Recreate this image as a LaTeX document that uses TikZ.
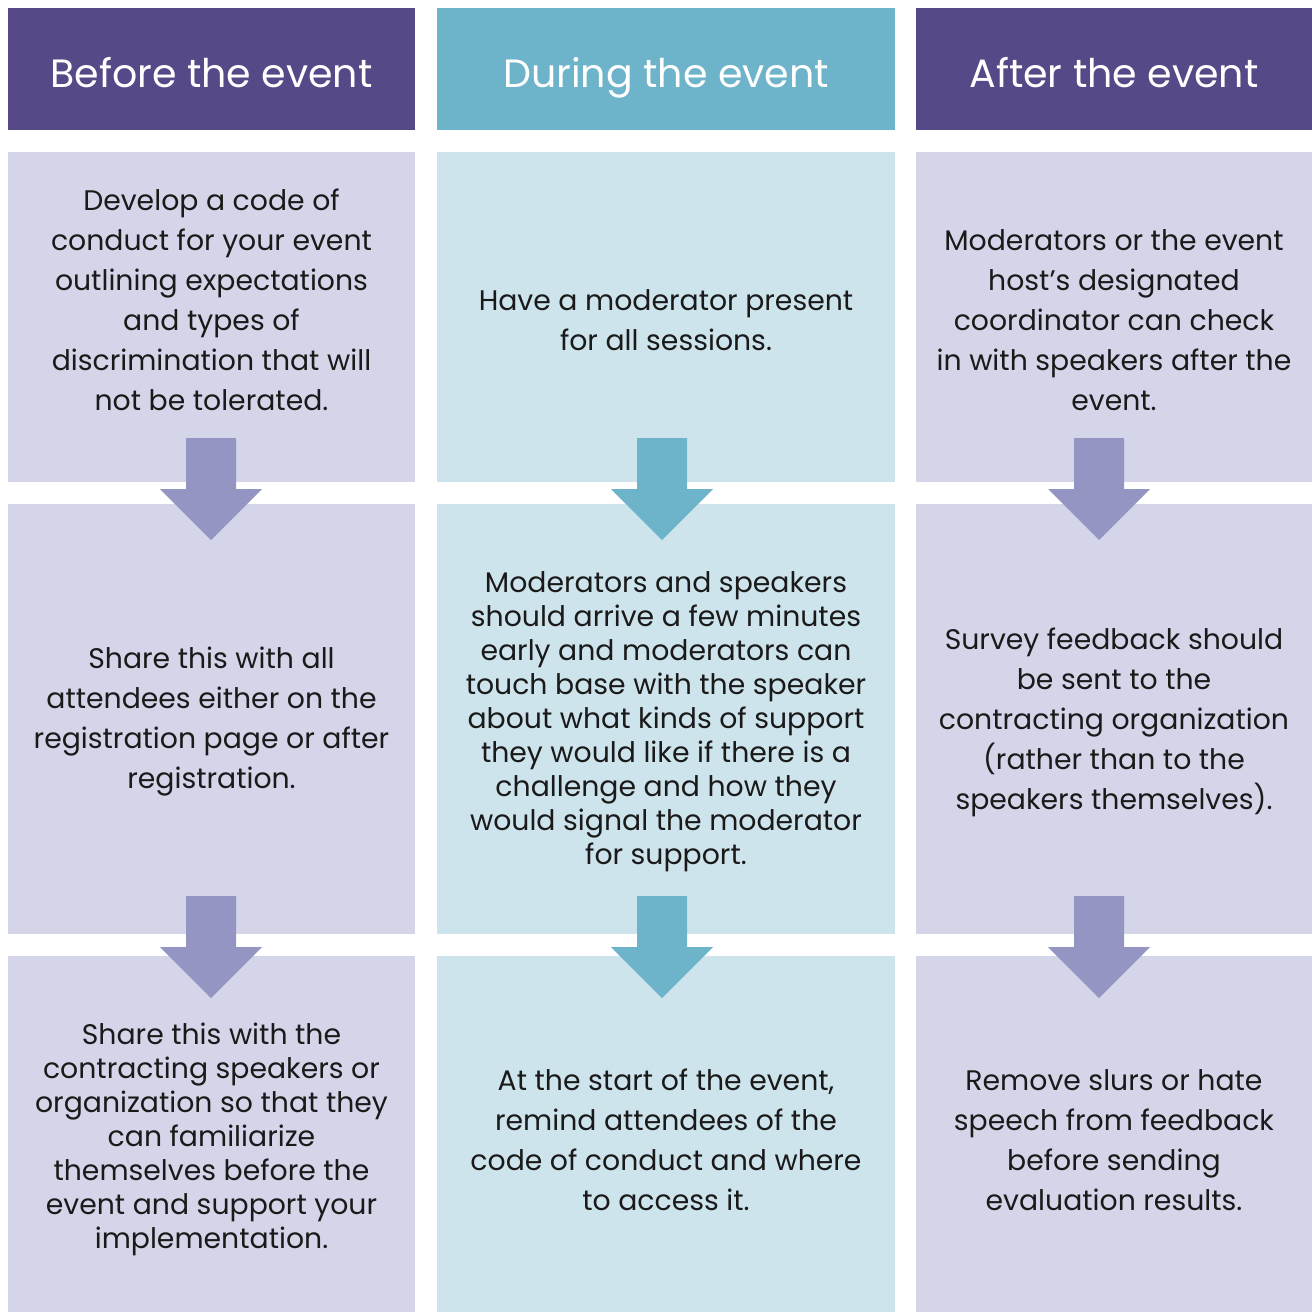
\documentclass[tikz,border=0pt]{standalone}
\usepackage{fontspec}
\setmainfont{Poppins}
\definecolor{hpurple}{HTML}{574887}
\definecolor{hteal}{HTML}{6DB3C9}
\definecolor{lpurple}{HTML}{D5D5EA}
\definecolor{lteal}{HTML}{CEE4EC}
\definecolor{apurple}{HTML}{9595C3}
\definecolor{txt}{HTML}{1A1A1A}
\tikzset{
  hdr/.style={anchor=base, inner sep=0pt, text=white, font=\fontsize{39.5}{44}\selectfont},
  body/.style={align=center, text=txt, font=\fontsize{28.3}{40}\selectfont},
  bodyt/.style={align=center, text=txt, font=\fontsize{28.3}{34}\selectfont},
}
\usetikzlibrary{calc}
\newcommand{\dnarrow}[2]{%
  \fill[#2] ($(#1)+(-25,0)$) -- ++(50,0) -- ++(0,51) -- ++(26,0) -- ($(#1)+(0,102)$) -- ($(#1)+(-51,51)$) -- ++(26,0) -- cycle;}
\begin{document}
\begin{tikzpicture}[x=1pt,y=-1pt]
\useasboundingbox (0,0) rectangle (1312,1312);
\fill[white] (0,0) rectangle (1312,1312);
% headers
\fill[hpurple] (8,8) rectangle (415,130);
\fill[hteal] (437,8) rectangle (895,130);
\fill[hpurple] (916,8) rectangle (1312,130);
\node[hdr] (h1) at (211.5,87) {Before the event};
\node[hdr] (h2) at (666,87) {During the event};
\node[hdr] (h3) at (1114,87) {After the event};
% cells
\foreach \ya/\yb in {152/482, 504/934, 956/1312} {
  \fill[lpurple] (8,\ya) rectangle (415,\yb);
  \fill[lteal] (437,\ya) rectangle (895,\yb);
  \fill[lpurple] (916,\ya) rectangle (1312,\yb);
}
% arrows
\coordinate (a11) at (211,438);
\coordinate (a21) at (662,438);
\coordinate (a31) at (1099,438);
\coordinate (a12) at (211,896);
\coordinate (a22) at (662,896);
\coordinate (a32) at (1099,896);
\dnarrow{a11}{apurple}
\dnarrow{a21}{hteal}
\dnarrow{a31}{apurple}
\dnarrow{a12}{apurple}
\dnarrow{a22}{hteal}
\dnarrow{a32}{apurple}
% texts
\node[body] (t11) at (211.5,300) {Develop a code of\\conduct for your event\\outlining expectations\\and types of\\discrimination that will\\not be tolerated.};
\node[body] (t21) at (666,320) {Have a moderator present\\for all sessions.};
\node[body] (t31) at (1114,320) {Moderators or the event\\host’s designated\\coordinator can check\\in with speakers after the\\event.};
\node[body] (t12) at (211.5,722) {Share this with all\\attendees either on the\\registration page or after\\registration.};
\node[bodyt] (t22) at (666,722) {Moderators and speakers\\should arrive a few minutes\\early and moderators can\\touch base with the speaker\\about what kinds of support\\they would like if there is a\\challenge and how they\\would signal the moderator\\for support.};
\node[body] (t32) at (1114,722) {Survey feedback should\\be sent to the\\contracting organization\\(rather than to the\\speakers themselves).};
\node[bodyt] (t13) at (211.5,1139) {Share this with the\\contracting speakers or\\organization so that they\\can familiarize\\themselves before the\\event and support your\\implementation.};
\node[body] (t23) at (666,1140) {At the start of the event,\\remind attendees of the\\code of conduct and where\\to access it.};
\node[body] (t33) at (1114,1140) {Remove slurs or hate\\speech from feedback\\before sending\\evaluation results.};
\end{tikzpicture}
\end{document}
